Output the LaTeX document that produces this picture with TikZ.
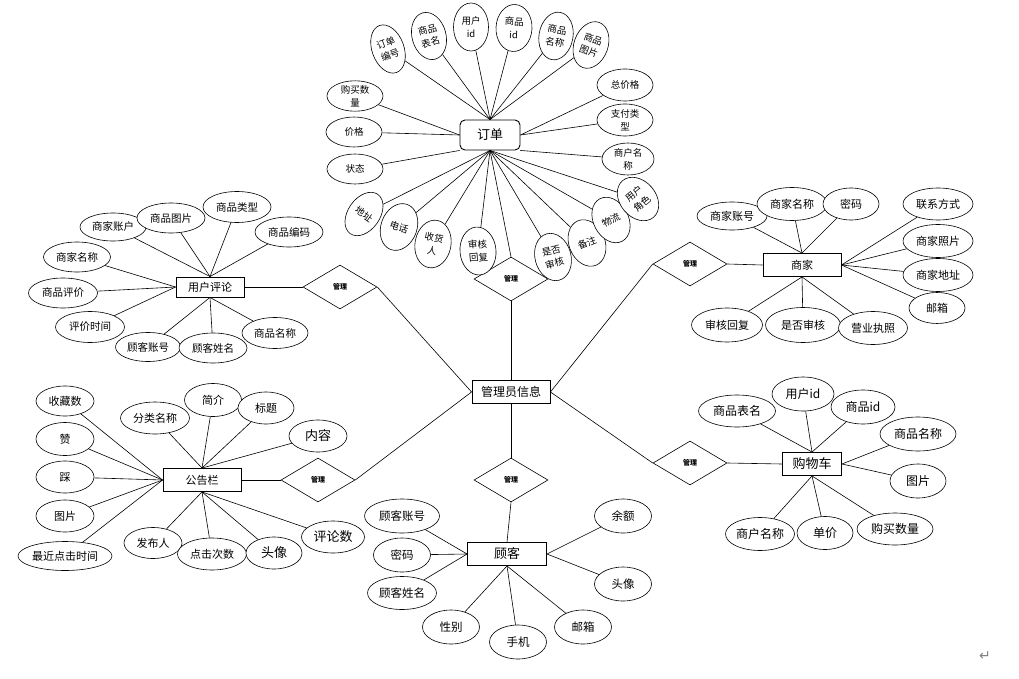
\documentclass[tikz,border=0pt]{standalone}
\usepackage{fontspec}
\setmainfont{Noto Sans CJK SC}
\newfontfamily\symfont{DejaVu Sans}
\usetikzlibrary{shapes.geometric}

\begin{document}
\begin{tikzpicture}[
      x=1pt,y=-1pt,
      entity/.style={rectangle,draw=black,line width=0.9pt,fill=white,minimum height=23,inner sep=0pt,font=\fontsize{12}{14}\selectfont},
      relation/.style={diamond,draw=black,line width=0.6pt,fill=white,minimum width=74,minimum height=44,inner sep=0pt,font=\fontsize{7}{8}\selectfont\bfseries},
      attr/.style={ellipse,draw=black,line width=0.6pt,fill=white,inner sep=0pt,align=center},
      link/.style={draw=black,line width=0.6pt}
      ]

      % white page, same size as the reference
      \fill[white] (0,0) rectangle (1019,679);

      % the central entity and the six "manage" relations round it
      \node[entity,minimum width=78] (admin) at (511,392) {管理员信息};
      \node[relation] (mgrOrder) at (511,279) {管理};
      \node[relation] (mgrReview) at (340,287) {管理};
      \node[relation] (mgrNotice) at (318,480) {管理};
      \node[relation] (mgrShop) at (690,264) {管理};
      \node[relation] (mgrCart) at (690,463) {管理};
      \node[relation] (mgrCust) at (511,480) {管理};

      % the entities
      \node[entity,minimum width=60,minimum height=30,rounded corners=5pt,font=\fontsize{13}{15}\selectfont] (order) at (490,135) {订单};
      \node[entity,minimum width=68,minimum height=20,font=\fontsize{11}{13}\selectfont] (review) at (210,287) {用户评论};
      \node[entity,minimum width=78,font=\fontsize{11}{13}\selectfont] (notice) at (202,480) {公告栏};
      \node[entity,minimum width=78,font=\fontsize{11}{13}\selectfont] (shop) at (802,265) {商家};
      \node[entity,minimum width=59,font=\fontsize{13}{15}\selectfont] (cart) at (812,464) {购物车};
      \node[entity,minimum width=79,font=\fontsize{13}{15}\selectfont] (cust) at (507,554) {顾客};

      % entity -- relation -- admin
      \path (order.south) edge [link] (mgrOrder.north);
      \path (mgrOrder.south) edge [link] (admin.north);
      \path (review.east) edge [link] (mgrReview.west);
      \path (mgrReview.east) edge [link] (admin.west);
      \path (notice.east) edge [link] (mgrNotice.west);
      \path (mgrNotice.east) edge [link] (admin.west);
      \path (admin.east) edge [link] (mgrShop.west);
      \path (mgrShop.east) edge [link] (shop.west);
      \path (admin.east) edge [link] (mgrCart.west);
      \path (mgrCart.east) edge [link] (cart.west);
      \path (admin.south) edge [link] (mgrCust.north);
      \path (mgrCust.south) edge [link] (cust.north);

      % attributes of the order: id/x/y/width/height/rotation/text/side of the box
      \foreach \id/\x/\y/\w/\h/\rot/\txt/\side in {
          o1/388/49/32/50/20/{订单\\编号}/north,
          o2/429/36/34/48/15/{商品\\表名}/north,
          o3/471/27/35/48/0/{用户\\id}/north,
          o4/514/28/36/47/-3/{商品\\id}/north,
          o5/556/36/34/48/-10/{商品\\名称}/north,
          o6/591/45/34/48/-20/{商品\\图片}/north,
          o7/355/96/56/30/0/{购买数\\量}/west,
          o8/354/132/56/30/0/价格/west,
          o9/355/169/56/30/0/状态/south west,
          o10/625/85/56/32/0/总价格/east,
          o11/625/120/56/32/0/{支付类\\型}/east,
          o12/628/159/52/32/0/{商户名\\称}/south east,
          o13/364/214/32/48/-35/地址/south,
          o14/399/227/36/48/-20/电话/south,
          o15/433/244/36/48/-10/{收货\\人}/south,
          o16/478/251/36/48/5/{审核\\回复}/south,
          o17/553/257/36/48/15/{是否\\审核}/south,
          o18/587/243/36/48/22/备注/south,
          o19/611/220/35/48/28/物流/south,
          o20/638/199/36/48/40/{用户\\角色}/south}
      {
        \node[attr,minimum width=\w,minimum height=\h,rotate=\rot,font=\fontsize{9.5}{13}\selectfont] (\id) at (\x,\y) {\txt};
        \path (order.\side) edge [link] (\id);
      }

      % attributes of the review
      \foreach \id/\x/\y/\w/\h/\txt/\side in {
          r1/113/227/66/28/商家账户/north,
          r2/171/218/68/30/商品图片/north,
          r3/237/207/68/31/商品类型/north,
          r4/289/232/68/30/商品编码/north,
          r5/77/257/67/30/商家名称/west,
          r6/63/293/69/30/商品评价/west,
          r7/90/327/69/31/评价时间/west,
          r8/148/347/65/29/顾客账号/south,
          r9/213/348/68/30/顾客姓名/south,
          r10/275/333/66/31/商品名称/south}
      {
        \node[attr,minimum width=\w,minimum height=\h,font=\fontsize{10.5}{12}\selectfont] (\id) at (\x,\y) {\txt};
        \path (review.\side) edge [link] (\id);
      }

      % attributes of the notice board
      \foreach \id/\x/\y/\w/\h/\fs/\txt/\side in {
          n1/65/401/58/30/11/收藏数/west,
          n2/65/439/58/33/11/赞/west,
          n3/65/477/58/32/11/踩/west,
          n4/65/516/58/32/11/图片/west,
          n5/65/556/94/29/11/最近点击时间/west,
          n6/155/418/69/32/11/分类名称/north,
          n7/213/400/57/33/11/简介/north,
          n8/266/408/56/32/11/标题/north,
          n9/318/436/58/32/13/内容/north,
          n10/333/537/63/32/13/评论数/south,
          n11/153/543/58/31/11/发布人/south,
          n12/212/554/69/32/11/点击次数/south,
          n13/274/553/56/32/13/头像/south}
      {
        \node[attr,minimum width=\w,minimum height=\h,font=\fontsize{\fs}{13}\selectfont] (\id) at (\x,\y) {\txt};
        \path (notice.\side) edge [link] (\id);
      }

      % attributes of the shop
      \foreach \id/\x/\y/\w/\h/\txt/\side in {
          s1/732/216/70/28/商家账号/north,
          s2/792/204/70/33/商家名称/north,
          s3/851/204/56/32/密码/north,
          s4/938/204/70/32/联系方式/east,
          s5/938/241/70/33/商家照片/east,
          s6/938/275/70/33/商家地址/east,
          s7/937/308/56/31/邮箱/east,
          s8/727/325/71/34/审核回复/south,
          s9/803/325/75/35/是否审核/south,
          s10/873/328/69/33/营业执照/south}
      {
        \node[attr,minimum width=\w,minimum height=\h,font=\fontsize{11}{13}\selectfont] (\id) at (\x,\y) {\txt};
        \path (shop.\side) edge [link] (\id);
      }

      % attributes of the cart
      \foreach \id/\x/\y/\w/\h/\txt/\side in {
          c1/737/411/77/32/商品表名/north,
          c2/803/394/62/34/用户id/north,
          c3/863/407/64/34/商品id/north,
          c4/918/434/76/34/商品名称/east,
          c5/918/481/56/34/图片/east,
          c6/760/534/69/33/商户名称/south,
          c7/825/533/56/33/单价/south,
          c8/895/529/76/32/购买数量/south}
      {
        \node[attr,minimum width=\w,minimum height=\h,font=\fontsize{12}{14}\selectfont] (\id) at (\x,\y) {\txt};
        \path (cart.\side) edge [link] (\id);
      }

      % attributes of the customer
      \foreach \id/\x/\y/\w/\h/\txt/\side in {
          k1/402/516/75/34/顾客账号/west,
          k2/402/555/57/34/密码/west,
          k3/402/593/69/33/顾客姓名/west,
          k4/451/627/57/34/性别/south,
          k5/518/642/57/34/手机/south,
          k6/583/627/57/34/邮箱/south,
          k7/623/516/57/34/余额/east,
          k8/623/584/57/34/头像/east}
      {
        \node[attr,minimum width=\w,minimum height=\h,font=\fontsize{11.5}{13}\selectfont] (\id) at (\x,\y) {\txt};
        \path (cust.\side) edge [link] (\id);
      }

      % paragraph mark in the corner
      \node[text=gray,font=\symfont\fontsize{14}{14}\selectfont] (mark) at (985,656) {↵};
    \end{tikzpicture}
\end{document}
